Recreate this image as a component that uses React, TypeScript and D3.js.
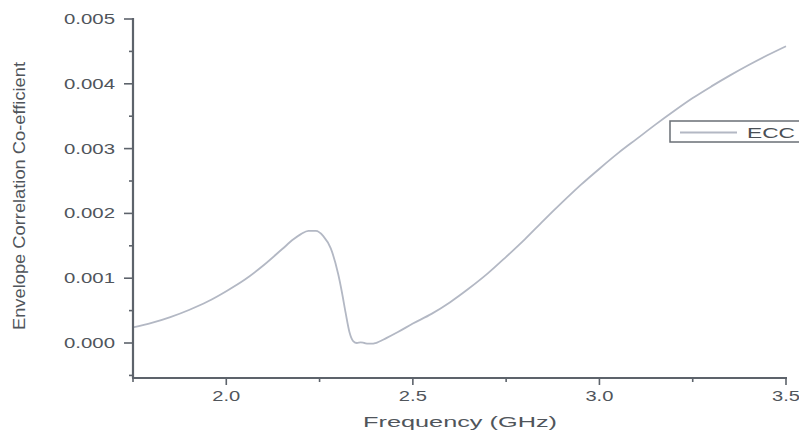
import React from "react";
import * as d3 from "d3";

const freq = [1.75, 1.8, 1.85, 1.9, 1.95, 2.0, 2.05, 2.1, 2.15, 2.18, 2.2, 2.22, 2.24, 2.26, 2.28, 2.3, 2.31, 2.32, 2.33, 2.34, 2.35, 2.36, 2.37, 2.38, 2.39, 2.4, 2.43, 2.46, 2.5, 2.55, 2.6, 2.65, 2.7, 2.75, 2.8, 2.85, 2.9, 2.95, 3.0, 3.05, 3.1, 3.15, 3.2, 3.25, 3.3, 3.35, 3.4, 3.45, 3.5];
const ecc = [0.00024, 0.00031, 0.0004, 0.00051, 0.00064, 0.0008, 0.00098, 0.0012, 0.00145, 0.0016, 0.00168, 0.00173, 0.00173, 0.00165, 0.00146, 0.00106, 0.00078, 0.00046, 0.00017, 0.00003, 0.0, 0.00001, 0.0, -0.00001, -0.00001, 0.0, 0.00008, 0.00017, 0.0003, 0.00045, 0.00063, 0.00084, 0.00107, 0.00133, 0.0016, 0.00189, 0.00217, 0.00244, 0.00269, 0.00293, 0.00315, 0.00337, 0.00358, 0.00378, 0.00396, 0.00413, 0.00429, 0.00444, 0.00458];

const xMajor = [2.0, 2.5, 3.0, 3.5];
const xMinor = [1.75, 2.25, 2.75, 3.25];
const yMajor = [0, 0.001, 0.002, 0.003, 0.004, 0.005];
const yMinor = [-0.0005, 0.0005, 0.0015, 0.0025, 0.0035, 0.0045];
const seriesName = "ECC";
const xTitle = "Frequency (GHz)";
const yTitle = "Envelope  Correlation  Co-efficient";

export default function App() {
  const x = d3.scaleLinear().domain([1.75, 3.5]).range([133, 786]);
  const y = d3.scaleLinear().domain([-0.00054, 0.005]).range([378, 19]);
  const pts = freq.map((f, i) => [f, ecc[i]] as [number, number]);
  const line = d3
    .line<[number, number]>()
    .x((d) => x(d[0]))
    .y((d) => y(d[1]))
    .curve(d3.curveMonotoneX)(pts);

  const axisColor = "#5d636b";
  const textColor = "#50555b";
  const curveColor = "#b3b8c4";
  const font = "'Liberation Sans', Arial, sans-serif";

  return (
    <svg
      width={799}
      height={437}
      style={{ position: "absolute", left: 0, top: 0, background: "#fff" }}
    >
      <rect x={0} y={0} width={799} height={437} fill="#fff" />
      {/* curve */}
      <path d={line || ""} fill="none" stroke={curveColor} strokeWidth={1.8} strokeLinejoin="round" />

      {/* axes */}
      <line x1={133} x2={133} y1={y(0.005) - 1} y2={378} stroke={axisColor} strokeWidth={2.2} />
      <line x1={132} x2={787} y1={378} y2={378} stroke={axisColor} strokeWidth={2.2} />

      {yMajor.map((v) => (
        <g key={"ym" + v}>
          <line x1={124} x2={133} y1={y(v)} y2={y(v)} stroke={axisColor} strokeWidth={1.6} />
          <text
            x={115}
            y={y(v)}
            dy="0.36em"
            textAnchor="end"
            fontFamily={font}
            fontSize={14}
            fill={textColor}
            textLength={51}
            lengthAdjust="spacingAndGlyphs"
          >
            {d3.format(".3f")(v)}
          </text>
        </g>
      ))}
      {yMinor.map((v) => (
        <line key={"yn" + v} x1={129} x2={133} y1={y(v)} y2={y(v)} stroke={axisColor} strokeWidth={1.6} />
      ))}

      {xMajor.map((v) => (
        <g key={"xm" + v}>
          <line x1={x(v)} x2={x(v)} y1={378} y2={385} stroke={axisColor} strokeWidth={1.6} />
          <text
            x={x(v)}
            y={401}
            textAnchor="middle"
            fontFamily={font}
            fontSize={14}
            fill={textColor}
            textLength={28}
            lengthAdjust="spacingAndGlyphs"
          >
            {d3.format(".1f")(v)}
          </text>
        </g>
      ))}
      {xMinor.map((v) => (
        <line key={"xn" + v} x1={x(v)} x2={x(v)} y1={378} y2={382} stroke={axisColor} strokeWidth={1.6} />
      ))}

      {/* x title */}
      <text
        x={460}
        y={427}
        textAnchor="middle"
        fontFamily={font}
        fontSize={15.5}
        fill={textColor}
        textLength={194}
        lengthAdjust="spacingAndGlyphs"
      >
        {xTitle}
      </text>

      {/* y title */}
      <text
        transform="translate(25,196) rotate(-90)"
        textAnchor="middle"
        fontFamily="'Liberation Sans Narrow', 'Liberation Sans', Arial, sans-serif"
        fontSize={17}
        fill={textColor}
        textLength={268}
        lengthAdjust="spacingAndGlyphs"
      >
        {yTitle}
      </text>

      {/* legend */}
      <rect x={670} y={121} width={140} height={21} fill="#fff" stroke="#6a6f76" strokeWidth={1.5} />
      <line x1={680} x2={737} y1={132.5} y2={132.5} stroke={curveColor} strokeWidth={1.8} />
      <text
        x={747}
        y={138}
        fontFamily={font}
        fontSize={15}
        fill="#4a4f55"
        textLength={48}
        lengthAdjust="spacingAndGlyphs"
      >
        {seriesName}
      </text>
    </svg>
  );
}
